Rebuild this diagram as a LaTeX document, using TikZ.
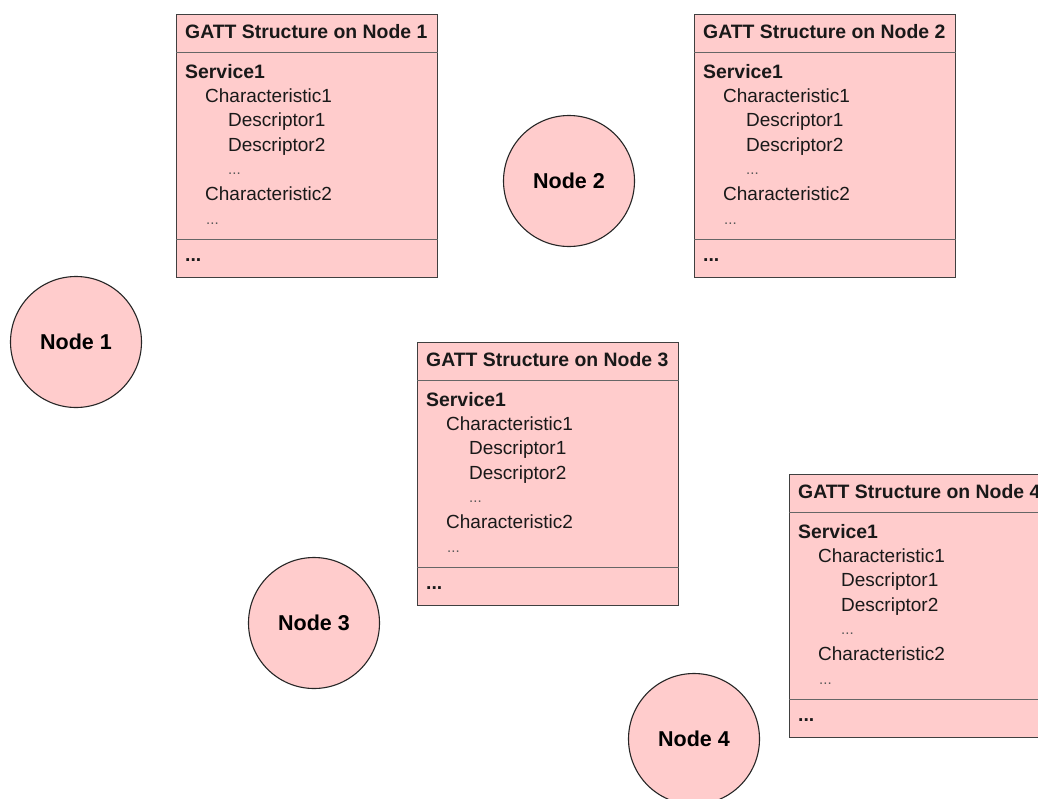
\documentclass[tikz,border=0pt]{standalone}
\usepackage{fontspec}
\setmainfont{Liberation Sans}
\begin{document}
\begin{tikzpicture}[x=1pt,y=-1pt,
  gattframe/.style={draw=black!75, line width=1.2pt, fill=pinkfill,
    minimum width=261pt, minimum height=263pt, inner sep=0pt, anchor=north west},
  divider/.style={draw=black!60, line width=0.9pt},
  txt/.style={anchor=base west, inner sep=0pt, text=black!90,
    font=\fontsize{19}{23}\selectfont},
  btxt/.style={txt, font=\fontsize{19.4}{23}\selectfont\bfseries},
  dots/.style={txt, font=\fontsize{15}{17}\selectfont, text=black!65},
  peer/.style={circle, draw=black!85, line width=1.1pt, fill=pinkfill,
    minimum size=131pt, inner sep=0pt,
    font=\fontsize{21.5}{25}\selectfont\bfseries}]
\definecolor{pinkfill}{HTML}{FFCCCC}
\useasboundingbox (0,0) rectangle (1038,798);
\clip (0,0) rectangle (1038,798);

% one GATT table: frame, header and footer dividers, and the tree of entries
\newcommand\gattbox[4]{%
  \node[gattframe] (#1) at (#2,#3) {};
  \draw[divider] ([yshift=-38pt]#1.north west) -- ([yshift=-38pt]#1.north east);
  \draw[divider] ([yshift=-225pt]#1.north west) -- ([yshift=-225pt]#1.north east);
  \node[btxt] (#1-head) at ([shift={(9pt,-24pt)}]#1.north west) {GATT Structure on Node #4};
  \node[btxt] (#1-svc)  at ([shift={(9pt,-64pt)}]#1.north west) {Service1};
  \node[txt]  (#1-ch1)  at ([shift={(29pt,-88.4pt)}]#1.north west) {Characteristic1};
  \node[txt]  (#1-d1)   at ([shift={(52pt,-112.8pt)}]#1.north west) {Descriptor1};
  \node[txt]  (#1-d2)   at ([shift={(52pt,-137.2pt)}]#1.north west) {Descriptor2};
  \node[dots] (#1-dd)   at ([shift={(52pt,-160.5pt)}]#1.north west) {...};
  \node[txt]  (#1-ch2)  at ([shift={(29pt,-186pt)}]#1.north west) {Characteristic2};
  \node[dots] (#1-cd)   at ([shift={(30pt,-210pt)}]#1.north west) {...};
  \node[btxt] (#1-foot) at ([shift={(9pt,-247pt)}]#1.north west) {...};
}

\gattbox{g1}{176}{14}{1}
\gattbox{g2}{694}{14}{2}
\gattbox{g3}{417}{342}{3}
\gattbox{g4}{789}{474}{4}

% the four devices
\node[peer] (n1) at (76,342) {Node 1};
\node[peer] (n2) at (569,181) {Node 2};
\node[peer] (n3) at (314,623) {Node 3};
\node[peer] (n4) at (694,739) {Node 4};
\end{tikzpicture}
\end{document}
